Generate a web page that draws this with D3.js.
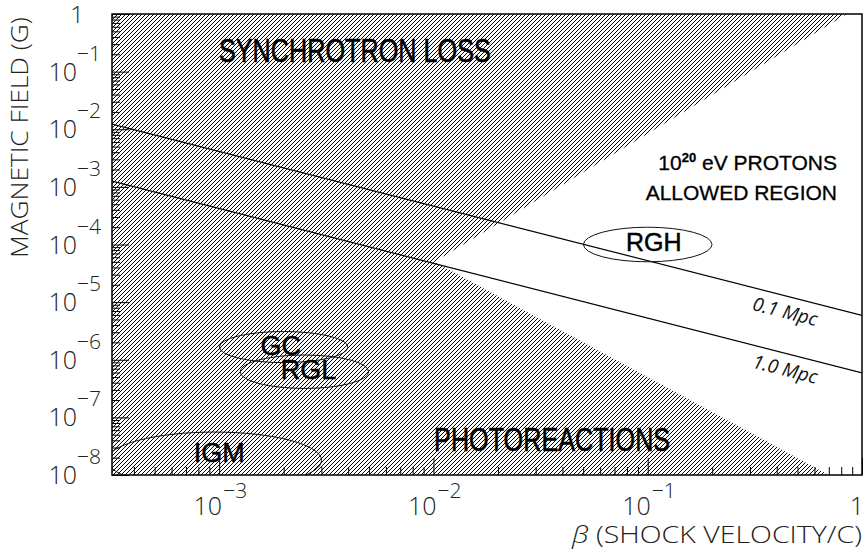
<!DOCTYPE html>
<html>
<head>
<meta charset="utf-8">
<script src="https://cdn.jsdelivr.net/npm/d3@7"></script>
<style>
  html, body { margin: 0; padding: 0; background: #fff; }
  svg { display: block; }
</style>
</head>
<body>
<svg id="chart" width="865" height="552"></svg>
<script>
// ---- data -------------------------------------------------------------
const betaMin = Math.pow(10, -3.5);
const betaDomain = [betaMin, 1];
const fieldDomain = [1e-8, 1];

const xMajorTicks = [1e-3, 1e-2, 1e-1, 1];
const xTickExponents = [-3, -2, -1, 0];
const yMajorTicks = [1, 1e-1, 1e-2, 1e-3, 1e-4, 1e-5, 1e-6, 1e-7, 1e-8];
const yTickExponents = [0, -1, -2, -3, -4, -5, -6, -7, -8];

// excluded (hatched) part of the beta-B plane: synchrotron loss above, photoreactions below
const excludedBeta  = [betaMin, 0.85, 0.0101, 0.70, betaMin];
const excludedField = [1,       1,    5e-5,   1e-8, 1e-8];

// maximum-size lines for two source sizes
const distanceNames = ["0.1 Mpc", "1.0 Mpc"];
const distanceBeta  = [[betaMin, 1], [betaMin, 1]];
const distanceField = [[1.23e-2, 5.9e-6], [1.26e-3, 5.9e-7]];
const distanceLabelBeta = [0.456, 0.456];

// candidate sources: centre and half-extent (in decades)
const sourceNames = ["RGH", "GC", "RGL", "IGM"];
const sourceBeta  = [0.1, 2e-3, 2.5e-3, 9.5e-4];
const sourceField = [1e-4, 1.66e-6, 6.2e-7, 1.8e-8];
const sourceSpreadBeta  = [0.30, 0.30, 0.30, 0.50];
const sourceSpreadField = [0.30, 0.27, 0.29, 0.49];

// ---- layout -----------------------------------------------------------
const svg = d3.select("#chart");
const plotLeft = 112, plotRight = 862, plotTop = 14, plotBottom = 475;

const x = d3.scaleLog().domain(betaDomain).range([plotLeft, plotRight]);
const y = d3.scaleLog().domain(fieldDomain).range([plotBottom, plotTop]);

const thinFont = "'Open Sans', 'DejaVu Sans', sans-serif";
const boldFont = "'Liberation Sans', Arial, sans-serif";

const defs = svg.append("defs");
defs.append("clipPath").attr("id", "plot-clip")
  .append("rect").attr("x", plotLeft).attr("y", plotTop)
  .attr("width", plotRight - plotLeft).attr("height", plotBottom - plotTop);

const hatch = defs.append("pattern").attr("id", "hatch")
  .attr("patternUnits", "userSpaceOnUse").attr("width", 4).attr("height", 4);
hatch.append("path")
  .attr("d", "M-1,1 l2,-2 M0,4 l4,-4 M3,5 l2,-2")
  .attr("stroke", "#000").attr("stroke-width", 1)
  .attr("shape-rendering", "crispEdges");

const plot = svg.append("g").attr("clip-path", "url(#plot-clip)");

// hatched exclusion region
plot.append("path")
  .datum(d3.zip(excludedBeta, excludedField))
  .attr("d", d3.line().x(d => x(d[0])).y(d => y(d[1])).curve(d3.curveLinearClosed))
  .attr("fill", "url(#hatch)").attr("stroke", "none");

// distance lines with rotated labels
distanceNames.forEach((name, i) => {
  const pts = d3.zip(distanceBeta[i], distanceField[i]);
  plot.append("path").datum(pts)
    .attr("d", d3.line().x(d => x(d[0])).y(d => y(d[1])))
    .attr("fill", "none").attr("stroke", "#000").attr("stroke-width", 1.2);

  const [p0, p1] = pts;
  const px0 = x(p0[0]), py0 = y(p0[1]), px1 = x(p1[0]), py1 = y(p1[1]);
  const lx = x(distanceLabelBeta[i]);
  const ly = py0 + (py1 - py0) * (lx - px0) / (px1 - px0);
  const ang = Math.atan2(py1 - py0, px1 - px0) * 180 / Math.PI;
  svg.append("text")
    .attr("transform", `translate(${lx},${ly}) rotate(${ang})`)
    .attr("x", 0).attr("y", 22)
    .attr("text-anchor", "middle")
    .attr("font-family", thinFont).attr("font-style", "italic")
    .attr("font-size", 19).attr("fill", "#111")
    .text(name);
});

// source ellipses
const labelNudge = { RGH: [6, 6], GC: [-3, 8], RGL: [4, 7], IGM: [5, 2] };
sourceNames.forEach((name, i) => {
  const cx = x(sourceBeta[i]), cy = y(sourceField[i]);
  const rx = x(sourceBeta[i] * Math.pow(10, sourceSpreadBeta[i])) - cx;
  const ry = cy - y(sourceField[i] * Math.pow(10, sourceSpreadField[i]));
  plot.append("ellipse")
    .attr("cx", cx).attr("cy", cy).attr("rx", rx).attr("ry", ry)
    .attr("fill", "none").attr("stroke", "#111").attr("stroke-width", 1);
  const fs = name === "RGH" ? 25 : 27;
  plot.append("text")
    .attr("x", cx + labelNudge[name][0]).attr("y", cy + labelNudge[name][1])
    .attr("text-anchor", "middle")
    .attr("font-family", boldFont).attr("font-size", fs).attr("fill", "#000")
    .attr("stroke", "#000").attr("stroke-width", 0.5)
    .text(name);
});

// region annotations
function note(text, beta, field, size, length) {
  return svg.append("text")
    .attr("x", x(beta)).attr("y", y(field))
    .attr("text-anchor", "middle")
    .attr("font-family", boldFont).attr("font-size", size).attr("fill", "#000")
    .attr("stroke", "#000").attr("stroke-width", 0.6)
    .attr("textLength", length).attr("lengthAdjust", "spacingAndGlyphs")
    .text(text);
}
note("SYNCHROTRON LOSS", 4.3e-3, 0.147, 33, 272);
note("PHOTOREACTIONS", 0.0358, 2.6e-8, 33, 236);

const protons = svg.append("text")
  .attr("x", 837).attr("y", 170).attr("text-anchor", "end")
  .attr("font-family", boldFont).attr("font-size", 21).attr("fill", "#000")
  .attr("stroke", "#000").attr("stroke-width", 0.3);
protons.append("tspan").text("10");
protons.append("tspan").attr("font-size", 13).attr("font-weight", "bold").attr("dy", -8).text("20");
protons.append("tspan").attr("dy", 8).text(" eV PROTONS");
svg.append("text")
  .attr("x", 837).attr("y", 200).attr("text-anchor", "end")
  .attr("font-family", boldFont).attr("font-size", 21).attr("fill", "#000")
  .attr("stroke", "#000").attr("stroke-width", 0.3)
  .text("ALLOWED REGION");

// ---- axes -------------------------------------------------------------
const isPow10 = v => Math.abs(Math.log10(v) - Math.round(Math.log10(v))) < 1e-6;
const xMinor = x.ticks().filter(v => !isPow10(v));
const yMinor = y.ticks().filter(v => !isPow10(v));

function styleAxis(g) {
  g.select(".domain").remove();
  g.selectAll(".tick line").attr("stroke", "#000").attr("stroke-width", 1);
}
svg.append("g").attr("transform", `translate(0,${plotBottom})`)
  .call(d3.axisBottom(x).tickValues(xMinor).tickSize(-8).tickFormat(""))
  .call(styleAxis);
svg.append("g").attr("transform", `translate(0,${plotBottom})`)
  .call(d3.axisBottom(x).tickValues(xMajorTicks).tickSize(-17).tickFormat(""))
  .call(styleAxis);
svg.append("g").attr("transform", `translate(${plotLeft},0)`)
  .call(d3.axisLeft(y).tickValues(yMinor).tickSize(-8).tickFormat(""))
  .call(styleAxis);
svg.append("g").attr("transform", `translate(${plotLeft},0)`)
  .call(d3.axisLeft(y).tickValues(yMajorTicks).tickSize(-17).tickFormat(""))
  .call(styleAxis);

// frame
svg.append("rect")
  .attr("x", plotLeft).attr("y", plotTop)
  .attr("width", plotRight - plotLeft).attr("height", plotBottom - plotTop)
  .attr("fill", "none").attr("stroke", "#000").attr("stroke-width", 1.5);

// tick labels
const labelColor = "#222";
const minus = "\u2212";
yMajorTicks.forEach((v, i) => {
  const ty = y(v), e = yTickExponents[i];
  if (e === 0) {
    svg.append("text").attr("x", 84).attr("y", ty + 9).attr("text-anchor", "end")
      .attr("font-family", thinFont).attr("font-weight", 300).attr("font-size", 24)
      .attr("fill", labelColor).text("1");
    return;
  }
  svg.append("text").attr("x", 77).attr("y", ty + 9).attr("text-anchor", "end")
    .attr("font-family", thinFont).attr("font-weight", 300).attr("font-size", 25)
    .attr("fill", labelColor).text("10");
  svg.append("text").attr("x", 77).attr("y", ty - 11).attr("text-anchor", "start")
    .attr("font-family", thinFont).attr("font-weight", 300).attr("font-size", 21)
    .attr("fill", labelColor).text(minus + Math.abs(e));
});
xMajorTicks.forEach((v, i) => {
  const tx = x(v), e = xTickExponents[i];
  if (e === 0) {
    svg.append("text").attr("x", tx - 5).attr("y", 515).attr("text-anchor", "middle")
      .attr("font-family", thinFont).attr("font-weight", 300).attr("font-size", 25)
      .attr("fill", labelColor).text("1");
    return;
  }
  svg.append("text").attr("x", tx + 3).attr("y", 515).attr("text-anchor", "end")
    .attr("font-family", thinFont).attr("font-weight", 300).attr("font-size", 25)
    .attr("fill", labelColor).text("10");
  svg.append("text").attr("x", tx + 4).attr("y", 498).attr("text-anchor", "start")
    .attr("font-family", thinFont).attr("font-weight", 300).attr("font-size", 21)
    .attr("fill", labelColor).text(minus + Math.abs(e));
});

// axis titles
const xTitle = svg.append("text")
  .attr("x", 862).attr("y", 543).attr("text-anchor", "end")
  .attr("font-family", thinFont).attr("font-weight", 300).attr("font-size", 23)
  .attr("fill", labelColor)
  .attr("textLength", 290).attr("lengthAdjust", "spacingAndGlyphs");
xTitle.append("tspan").attr("font-style", "italic").text("\u03B2");
xTitle.append("tspan").text(" (SHOCK VELOCITY/C)");

svg.append("text")
  .attr("transform", "translate(28,17) rotate(-90)")
  .attr("text-anchor", "end")
  .attr("font-family", thinFont).attr("font-weight", 300).attr("font-size", 23)
  .attr("fill", labelColor)
  .attr("textLength", 241).attr("lengthAdjust", "spacingAndGlyphs")
  .text("MAGNETIC FIELD (G)");
</script>
</body>
</html>
